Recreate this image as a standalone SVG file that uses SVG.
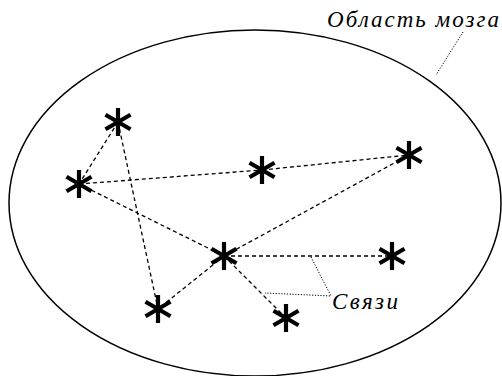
<svg xmlns="http://www.w3.org/2000/svg" width="502" height="376" viewBox="0 0 502 376">
<style>
.edge{stroke:#000;stroke-width:1.3;stroke-dasharray:4 3;fill:none}
.lead{stroke:#000;stroke-width:1;stroke-dasharray:1.2 1.6;fill:none}
.star{stroke:#000;stroke-width:4.2;stroke-linecap:butt}
.lbl{font-family:"Liberation Serif","DejaVu Serif",serif;font-style:italic;font-size:23px;fill:#000}
</style>
<defs>
<g id="ast">
<line class="star" x1="0" y1="-14" x2="0" y2="14"/>
<line class="star" x1="-12.5" y1="-7.2" x2="12.5" y2="7.2"/>
<line class="star" x1="-12.5" y1="7.2" x2="12.5" y2="-7.2"/>
</g>
</defs>
<rect width="502" height="376" fill="#fff"/>
<g id="region">
<ellipse cx="255" cy="203" rx="246" ry="173" fill="none" stroke="#000" stroke-width="1.5"/>
</g>
<g id="connectors">
<line class="edge" x1="118" y1="122" x2="79" y2="184"/>
<line class="edge" x1="118" y1="122" x2="158" y2="309"/>
<line class="edge" x1="79" y1="184" x2="262" y2="170"/>
<line class="edge" x1="262" y1="170" x2="409" y2="155"/>
<line class="edge" x1="79" y1="184" x2="224" y2="256"/>
<line class="edge" x1="224" y1="256" x2="409" y2="155"/>
<line class="edge" x1="224" y1="256" x2="392" y2="256"/>
<line class="edge" x1="224" y1="256" x2="158" y2="309"/>
<line class="edge" x1="224" y1="256" x2="286" y2="318"/>
<polyline class="lead" points="311,257 331,296 265,293"/>
<line class="lead" x1="463" y1="32" x2="436" y2="75"/>
</g>
<g id="n1"><use href="#ast" x="118" y="122"/></g>
<g id="n2"><use href="#ast" x="79" y="184"/></g>
<g id="n3"><use href="#ast" x="262" y="170"/></g>
<g id="n4"><use href="#ast" x="409" y="155"/></g>
<g id="n5"><use href="#ast" x="224" y="256"/></g>
<g id="n6"><use href="#ast" x="392" y="256"/></g>
<g id="n7"><use href="#ast" x="158" y="309"/></g>
<g id="n8"><use href="#ast" x="286" y="318"/></g>
<g id="labels">
<text class="lbl" x="327" y="27" textLength="172" lengthAdjust="spacing">Область мозга</text>
<text class="lbl" x="332" y="309" textLength="66" lengthAdjust="spacing">Связи</text>
</g>
</svg>
